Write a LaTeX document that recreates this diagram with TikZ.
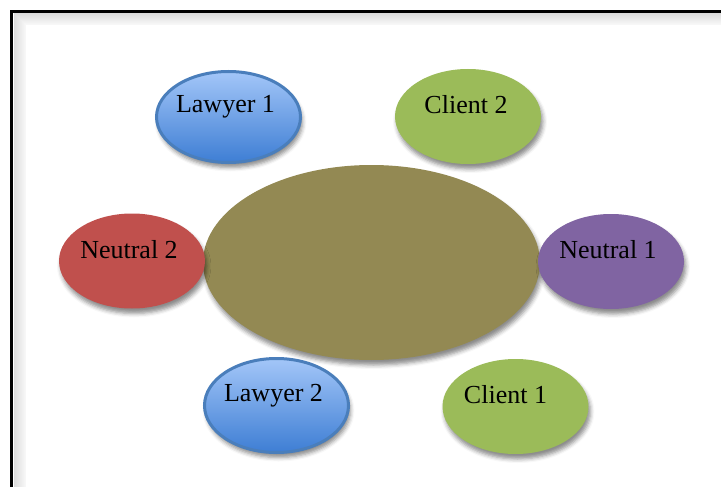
\documentclass[tikz,border=0pt]{standalone}
\usepackage{fontspec}
\setmainfont{Liberation Serif}
\usepackage{tikz}
\usetikzlibrary{shapes.geometric,shadows,shadows.blur}
\definecolor{niceblueL}{RGB}{163, 198, 248}
\definecolor{niceblueH}{RGB}{62, 126, 212}
\definecolor{niceblueB}{RGB}{74, 126, 187}
\definecolor{nicegreen}{RGB}{155, 187, 89}
\definecolor{niceolive}{RGB}{147, 137, 83}
\definecolor{nicered}{RGB}{192, 80, 77}
\definecolor{nicepurple}{RGB}{128, 100, 162}

\begin{document}
\begin{tikzpicture}[x = 1pt, y = -1pt,
	oval/.style = {ellipse, inner sep = 0pt, minimum width = 146pt, minimum height = 95pt,
		blur shadow = {shadow xshift = 2pt, shadow yshift = -5pt, shadow blur radius = 4pt, shadow opacity = 45}},
	txt/.style = {anchor = base, font = \fontsize{26}{30}\selectfont}]
			\useasboundingbox (0,0) rectangle (721,487);
			% frame with inner shadow
			\foreach \i in {1,...,12}
				\draw [line width = 1pt, black!\the\numexpr 15-\i\relax] (13+\i,740) -- (13+\i,13+\i) -- (740,13+\i);
			\draw [line width = 3pt] (11.5,740) -- (11.5,11.5) -- (740,11.5);
			% ovals
			\node (m) at (371.5,262.5) [oval, fill = niceolive, minimum width = 337pt, minimum height = 195pt] {};
			\node (n2) at (132,261) [oval, fill = nicered] {};
			\node (n1) at (611,261.5) [oval, fill = nicepurple] {};
			\node (l1) at (228.5,117) [oval, draw = niceblueB, line width = 3pt, top color = niceblueL, bottom color = niceblueH, minimum width = 144pt, minimum height = 91pt] {};
			\node (c2) at (468,116.5) [oval, fill = nicegreen] {};
			\node (l2) at (276.5,405.5) [oval, draw = niceblueB, line width = 3pt, top color = niceblueL, bottom color = niceblueH, minimum width = 144pt, minimum height = 94pt] {};
			\node (c1) at (515.5,406.5) [oval, fill = nicegreen] {};
			% labels
			\node (l1t) at ([shift = {(-3pt,4pt)}]l1.center) [txt] {Lawyer 1};
			\node (c2t) at ([shift = {(-2pt,3pt)}]c2.center) [txt] {Client 2};
			\node (n2t) at ([shift = {(-3pt,3pt)}]n2.center) [txt] {Neutral 2};
			\node (n1t) at ([shift = {(-3pt,3pt)}]n1.center) [txt] {Neutral 1};
			\node (l2t) at ([shift = {(-3pt,4pt)}]l2.center) [txt] {Lawyer 2};
			\node (c1t) at ([shift = {(-10pt,3pt)}]c1.center) [txt] {Client 1};
			\end{tikzpicture}
\end{document}
